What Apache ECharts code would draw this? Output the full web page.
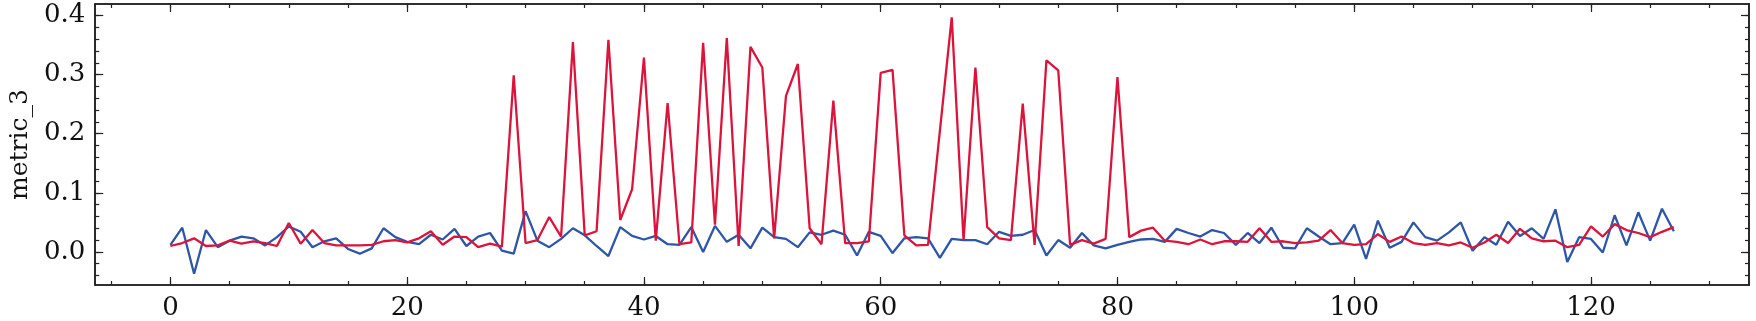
<!DOCTYPE html>
<html>
<head>
<meta charset="utf-8">
<script src="https://cdn.jsdelivr.net/npm/echarts@6/dist/echarts.min.js"></script>
<style>
  html, body { margin: 0; padding: 0; background: #fff; }
  #chart { width: 1756px; height: 321px; }
</style>
</head>
<body>
<div id="chart"></div>
<script>
// metric_3 per step, two runs
const steps = Array.from({ length: 128 }, (_, i) => i);

const blueValues = [
  0.012, 0.041, -0.037, 0.037, 0.008, 0.019, 0.026, 0.023, 0.011, 0.025,
  0.043, 0.034, 0.008, 0.018, 0.023, 0.005, -0.003, 0.006, 0.040, 0.025,
  0.017, 0.013, 0.029, 0.021, 0.039, 0.010, 0.026, 0.032, 0.002, -0.003,
  0.069, 0.019, 0.008, 0.022, 0.040, 0.028, 0.010, -0.007, 0.042, 0.027,
  0.021, 0.027, 0.013, 0.012, 0.042, 0.000, 0.044, 0.017, 0.029, 0.006,
  0.041, 0.025, 0.022, 0.008, 0.033, 0.029, 0.036, 0.029, -0.006, 0.034,
  0.027, -0.002, 0.023, 0.025, 0.023, -0.010, 0.022, 0.020, 0.020, 0.013,
  0.034, 0.027, 0.029, 0.037, -0.006, 0.020, 0.007, 0.032, 0.011, 0.006,
  0.012, 0.017, 0.021, 0.022, 0.017, 0.039, 0.032, 0.026, 0.037, 0.032,
  0.012, 0.032, 0.015, 0.041, 0.007, 0.006, 0.040, 0.026, 0.013, 0.015,
  0.046, -0.012, 0.053, 0.007, 0.017, 0.050, 0.025, 0.019, 0.033, 0.050,
  0.002, 0.025, 0.012, 0.051, 0.027, 0.040, 0.022, 0.072, -0.017, 0.025,
  0.022, -0.001, 0.062, 0.011, 0.067, 0.019, 0.073, 0.035
];

const redValues = [
  0.010, 0.015, 0.023, 0.010, 0.011, 0.019, 0.014, 0.018, 0.015, 0.010,
  0.049, 0.014, 0.037, 0.015, 0.011, 0.011, 0.011, 0.012, 0.018, 0.020,
  0.016, 0.023, 0.035, 0.012, 0.026, 0.025, 0.008, 0.014, 0.009, 0.299,
  0.015, 0.020, 0.059, 0.026, 0.355, 0.028, 0.035, 0.359, 0.054, 0.106,
  0.329, 0.019, 0.252, 0.013, 0.016, 0.354, 0.046, 0.362, 0.010, 0.347,
  0.312, 0.023, 0.264, 0.318, 0.040, 0.013, 0.256, 0.015, 0.015, 0.018,
  0.303, 0.308, 0.028, 0.011, 0.012, 0.205, 0.397, 0.020, 0.312, 0.042,
  0.023, 0.020, 0.251, 0.012, 0.324, 0.307, 0.012, 0.020, 0.014, 0.022,
  0.296, 0.025, 0.036, 0.041, 0.019, 0.017, 0.013, 0.021, 0.013, 0.018,
  0.018, 0.017, 0.040, 0.017, 0.018, 0.015, 0.016, 0.019, 0.037, 0.015,
  0.012, 0.013, 0.030, 0.017, 0.026, 0.015, 0.012, 0.015, 0.011, 0.016,
  0.007, 0.016, 0.029, 0.015, 0.039, 0.023, 0.018, 0.019, 0.008, 0.012,
  0.043, 0.026, 0.047, 0.037, 0.032, 0.025, 0.034, 0.042
];

const xTicks = [0, 20, 40, 60, 80, 100, 120];
const yTicks = [0.0, 0.1, 0.2, 0.3, 0.4];
const yName = 'metric_3';

const xMin = -6.35, xMax = 133.35;
const yMin = -0.056, yMax = 0.4195;

// minor ticks: every 5 on x, every 0.02 on y
const xMinor = [];
for (let v = -5; v <= 130; v += 5) xMinor.push(v);
const yMinor = [];
for (let k = -2; k <= 20; k++) yMinor.push(+(k * 0.02).toFixed(2));

const frameColor = '#222';
const font = 'DejaVu Serif';

function makeAxis(position, min, max, ticks, len, withLabel, isY) {
  return {
    type: 'value',
    position: position,
    min: min,
    max: max,
    axisLine: { show: true, onZero: false, lineStyle: { color: frameColor, width: 1.6 } },
    axisTick: {
      show: true,
      inside: true,
      length: len,
      customValues: ticks,
      lineStyle: { color: frameColor, width: 1.2 }
    },
    axisLabel: {
      show: withLabel,
      customValues: ticks,
      color: '#111',
      fontFamily: font,
      fontSize: 26,
      margin: 10,
      formatter: isY ? (v) => v.toFixed(1) : (v) => String(Math.round(v))
    },
    splitLine: { show: false },
    minorTick: { show: false }
  };
}

const chart = echarts.init(document.getElementById('chart'));

const leftAxis = makeAxis('left', yMin, yMax, yTicks, 8, true, true);
leftAxis.name = yName;
leftAxis.nameLocation = 'middle';
leftAxis.nameGap = 58;
leftAxis.nameTextStyle = { fontFamily: font, fontSize: 25, color: '#111' };

const option = {
  animation: false,
  backgroundColor: '#fff',
  grid: { left: 88, right: 7, top: 4, bottom: 34, containLabel: false },
  xAxis: [
    makeAxis('bottom', xMin, xMax, xTicks, 8, true, false),
    makeAxis('bottom', xMin, xMax, xMinor, 4, false, false),
    makeAxis('top', xMin, xMax, xTicks, 8, false, false),
    makeAxis('top', xMin, xMax, xMinor, 4, false, false)
  ],
  yAxis: [
    leftAxis,
    makeAxis('left', yMin, yMax, yMinor, 4, false, true),
    makeAxis('right', yMin, yMax, yTicks, 8, false, true),
    makeAxis('right', yMin, yMax, yMinor, 4, false, true)
  ],
  series: [
    {
      name: 'blue',
      type: 'line',
      xAxisIndex: 0,
      yAxisIndex: 0,
      data: steps.map((s, i) => [s, blueValues[i]]),
      showSymbol: false,
      lineStyle: { color: '#2D57A6', width: 2.3 },
      z: 2
    },
    {
      name: 'red',
      type: 'line',
      xAxisIndex: 0,
      yAxisIndex: 0,
      data: steps.map((s, i) => [s, redValues[i]]),
      showSymbol: false,
      lineStyle: { color: '#DC143C', width: 2.3 },
      z: 3
    }
  ]
};

chart.setOption(option);
</script>
</body>
</html>
